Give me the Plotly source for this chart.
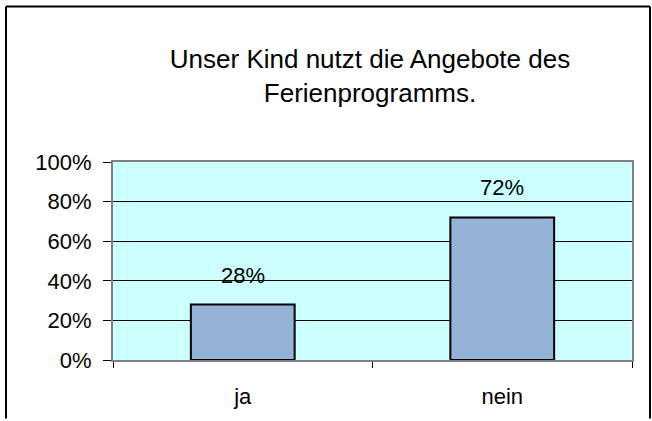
import plotly.graph_objects as go

# chart data
categories = ["ja", "nein"]
shares = [0.28, 0.72]
share_labels = ["28%", "72%"]
y_ticks = [0, 0.2, 0.4, 0.6, 0.8, 1.0]
y_tick_labels = ["0%", "20%", "40%", "60%", "80%", "100%"]
title_text = "Unser Kind nutzt die Angebote des<br>Ferienprogramms."

FONT = "Liberation Sans, Arial, sans-serif"

fig = go.Figure()
fig.add_trace(
    go.Bar(
        x=categories,
        y=shares,
        width=0.4,
        marker_color="#95B3D7",
        marker_line_color="#000000",
        marker_line_width=2,
        hoverinfo="skip",
    )
)

# data labels above the bars
for cat, val, lab in zip(categories, shares, share_labels):
    fig.add_annotation(
        x=cat,
        y=val,
        text=lab,
        showarrow=False,
        yanchor="bottom",
        yshift=15,
        font=dict(family=FONT, size=22, color="#000000"),
    )

W, H = 652, 421
ml, mr, mt, mb = 113, 20, 162, 59
pw, ph = W - ml - mr, H - mt - mb

# outer chart frame: left, top and right edges (bottom edge is cut off in the original)
left, right = (6 - ml) / pw, (650 - ml) / pw
top, bottom = (H - 5 - mb) / ph, -mb / ph
for x0, y0, x1, y1 in [
    (left, bottom, left, top),
    (left, top, right, top),
    (right, top, right, bottom),
]:
    fig.add_shape(
        type="line",
        xref="paper",
        yref="paper",
        x0=x0,
        y0=y0,
        x1=x1,
        y1=y1,
        line=dict(color="#000000", width=2),
    )

fig.update_layout(
    width=W,
    height=H,
    margin=dict(l=ml, r=mr, t=mt, b=mb),
    paper_bgcolor="#ffffff",
    plot_bgcolor="#CCFFFF",
    showlegend=False,
    bargap=0.6,
    font=dict(family=FONT, color="#000000"),
    title=dict(
        text=title_text,
        x=(370 - ml) / pw,
        xref="paper",
        xanchor="center",
        y=1 - 68 / H,
        yanchor="middle",
        font=dict(family=FONT, size=26, color="#000000"),
    ),
)
fig.update_xaxes(
    showline=True,
    linecolor="#808080",
    linewidth=2,
    mirror=True,
    showgrid=False,
    ticks="outside",
    tickson="boundaries",
    ticklen=6,
    tickcolor="#000000",
    ticklabelstandoff=16,
    tickfont=dict(family=FONT, size=22, color="#000000"),
)
fig.update_yaxes(
    range=[0, 1],
    tickvals=y_ticks,
    ticktext=y_tick_labels,
    showline=True,
    linecolor="#808080",
    linewidth=2,
    mirror=True,
    showgrid=True,
    gridcolor="#000000",
    gridwidth=1,
    zeroline=False,
    ticks="outside",
    ticklen=8,
    tickcolor="#000000",
    ticklabelstandoff=7,
    tickfont=dict(family=FONT, size=22, color="#000000"),
)

# drop the default page margin / scrollbars so the figure sits at the window origin
fig.write_html(
    "out.html",
    config={"displayModeBar": False},
    post_script="document.body.style.margin='0';document.body.style.overflow='hidden';",
)
